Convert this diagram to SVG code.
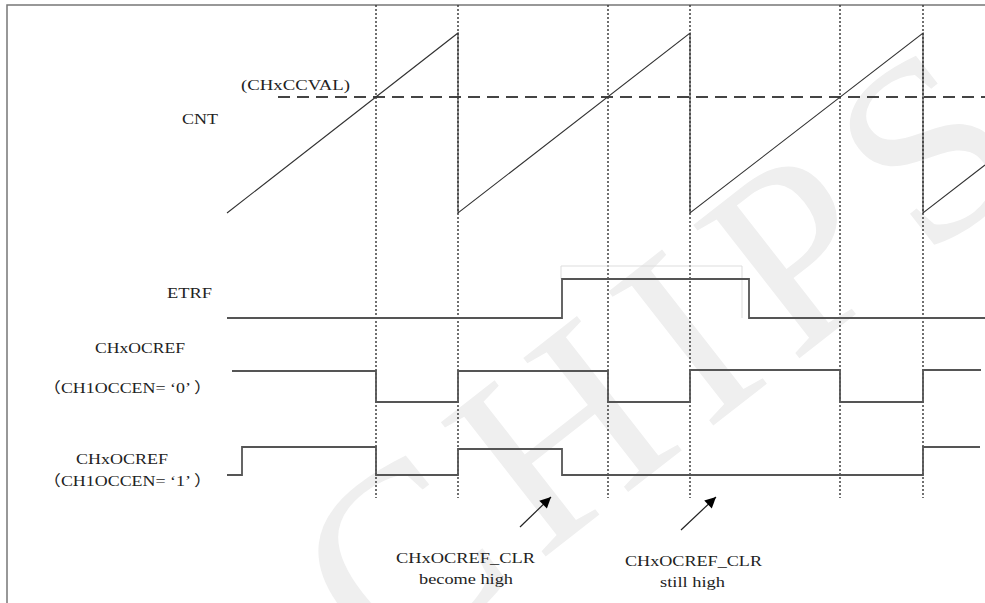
<svg xmlns="http://www.w3.org/2000/svg" width="985" height="603" viewBox="0 0 985 603">
<defs>
<style>
.t{font-family:"Liberation Serif","Noto Sans CJK SC",serif;font-size:15px;fill:#222}
.wave{fill:none;stroke:#555;stroke-width:1.8}
.saw{fill:none;stroke:#333;stroke-width:1.1}
.dot{fill:none;stroke:#333;stroke-width:1.4;stroke-dasharray:2 2}
.dash{fill:none;stroke:#444;stroke-width:1.8;stroke-dasharray:12 7}
.wm{font-family:"Liberation Serif",serif;font-size:260px;fill:#efefef;letter-spacing:23px}
</style>
<marker id="ah" viewBox="0 0 10 10" refX="10" refY="5" markerWidth="16" markerHeight="11" markerUnits="userSpaceOnUse" orient="auto">
<path d="M0,0 L10,5 L0,10 z" fill="#000"/>
</marker>
</defs>
<rect width="985" height="603" fill="#fff"/>
<text class="wm" transform="translate(385,682) rotate(-38)">CHIPS</text>
<path d="M7,603 V5 H985" fill="none" stroke="#777" stroke-width="1.5"/>
<g id="grid">
<path class="dot" d="M376,5 V498 M458,5 V498 M608,5 V498 M690,5 V498 M840,5 V498 M923,5 V498"/>
</g>
<g id="cnt">
<text class="t" x="182" y="124" textLength="36" lengthAdjust="spacingAndGlyphs">CNT</text>
<text class="t" x="241" y="90" textLength="109" lengthAdjust="spacingAndGlyphs">(CHxCCVAL)</text>
<path class="dash" d="M278,97 H985"/>
<path class="saw" d="M227,213 L458,33 V213 L690,33 V213 L923,33 V213 L985,165"/>
</g>
<g id="etrf">
<text class="t" x="167" y="298" textLength="45" lengthAdjust="spacingAndGlyphs">ETRF</text>
<path d="M561,279 V266 H742 V318" fill="none" stroke="#ddd" stroke-width="1"/>
<path class="wave" d="M227,318 H562 V279 H749 V318 H985"/>
</g>
<g id="ocref0">
<text class="t" x="95" y="353" textLength="90" lengthAdjust="spacingAndGlyphs">CHxOCREF</text>
<text class="t" x="43" y="393" textLength="169" lengthAdjust="spacingAndGlyphs">（CH1OCCEN= ‘0’ ）</text>
<path class="wave" d="M232,371 H376 V402 H458 V371 H608 V402 H690 V370 H840 V402 H923 V370 H981"/>
</g>
<g id="ocref1">
<text class="t" x="76" y="464" textLength="92" lengthAdjust="spacingAndGlyphs">CHxOCREF</text>
<text class="t" x="43" y="486" textLength="169" lengthAdjust="spacingAndGlyphs">（CH1OCCEN= ‘1’ ）</text>
<path class="wave" d="M227,475 H242 V447 H376 V475 H458 V449 H562 V475 H923 V447 H980"/>
</g>
<g id="connectors">
<line x1="520" y1="527" x2="551" y2="497" stroke="#222" stroke-width="1.2" marker-end="url(#ah)"/>
<line x1="681" y1="530" x2="716" y2="497" stroke="#222" stroke-width="1.2" marker-end="url(#ah)"/>
</g>
<g id="clr1">
<text class="t" x="396" y="563" textLength="139" lengthAdjust="spacingAndGlyphs">CHxOCREF_CLR</text>
<text class="t" x="419" y="584" textLength="94" lengthAdjust="spacingAndGlyphs">become high</text>
</g>
<g id="clr2">
<text class="t" x="625" y="566" textLength="137" lengthAdjust="spacingAndGlyphs">CHxOCREF_CLR</text>
<text class="t" x="660" y="587" textLength="65" lengthAdjust="spacingAndGlyphs">still high</text>
</g>
</svg>
